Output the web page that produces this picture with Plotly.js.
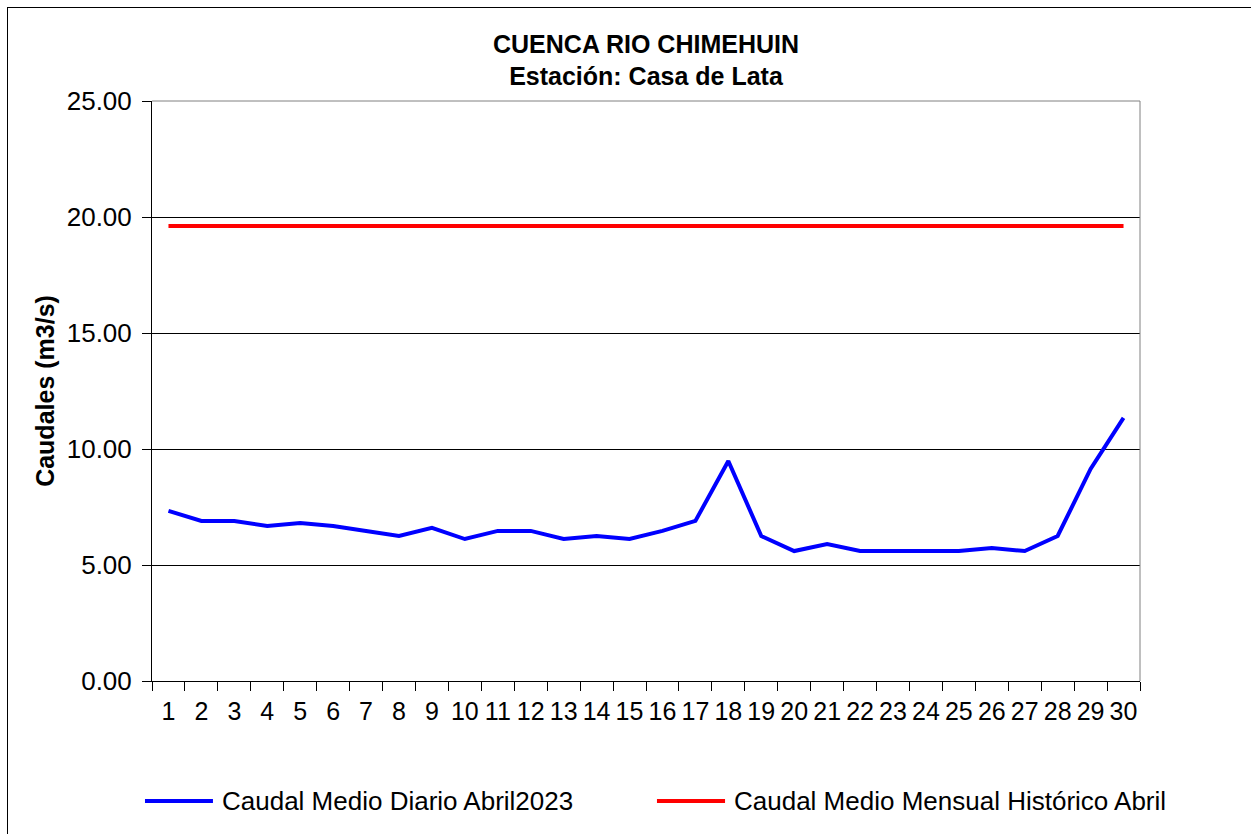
<!DOCTYPE html>
<html>
<head>
<meta charset="utf-8">
<script src="https://cdn.plot.ly/plotly-3.0.1.min.js"></script>
<style>
  html, body { margin: 0; padding: 0; background: #fff; }
  #wrap { position: relative; width: 1251px; height: 834px; overflow: hidden; }
  #chart { width: 1251px; height: 834px; }
  #frame { position: absolute; left: 7px; top: 7px; width: 1250px; height: 830px; border: 1px solid #000; pointer-events: none; box-sizing: border-box; }
</style>
</head>
<body>
<div id="wrap"><div id="chart"></div><div id="frame"></div></div>
<script>
const days = ['1','2','3','4','5','6','7','8','9','10','11','12','13','14','15','16','17','18','19','20','21','22','23','24','25','26','27','28','29','30'];
const caudalDiario = [7.33, 6.90, 6.90, 6.68, 6.81, 6.68, 6.47, 6.25, 6.60, 6.12, 6.47, 6.47, 6.12, 6.25, 6.12, 6.47, 6.90, 9.48, 6.25, 5.60, 5.90, 5.60, 5.60, 5.60, 5.60, 5.73, 5.60, 6.25, 9.14, 11.34];
const caudalHistorico = [19.61, 19.61, 19.61, 19.61, 19.61, 19.61, 19.61, 19.61, 19.61, 19.61, 19.61, 19.61, 19.61, 19.61, 19.61, 19.61, 19.61, 19.61, 19.61, 19.61, 19.61, 19.61, 19.61, 19.61, 19.61, 19.61, 19.61, 19.61, 19.61, 19.61];
const seriesNames = ['Caudal Medio Diario Abril2023', 'Caudal Medio Mensual Histórico Abril'];
const seriesColors = ['#0000ff', '#ff0000'];
const yTicks = [0, 5, 10, 15, 20, 25];
const yTickText = ['0.00', '5.00', '10.00', '15.00', '20.00', '25.00'];

const font = 'Liberation Sans, Arial, sans-serif';

const traces = [
  { x: days, y: caudalDiario, type: 'scatter', mode: 'lines', name: seriesNames[0],
    line: { color: seriesColors[0], width: 4 } },
  { x: days, y: caudalHistorico, type: 'scatter', mode: 'lines', name: seriesNames[1],
    line: { color: seriesColors[1], width: 4 } }
];

// manual legend (Excel style long line samples)
const legendY = -0.207;
const legendPos = [
  { x0: -0.0071, x1: 0.0617, tx: 0.0688 },
  { x0: 0.5111, x1: 0.5800, tx: 0.5870 }
];
const legendShapes = legendPos.map((p, i) => ({
  type: 'line', xref: 'paper', yref: 'paper', x0: p.x0, x1: p.x1, y0: legendY, y1: legendY,
  line: { color: seriesColors[i], width: 4 }
}));
const legendAnn = legendPos.map((p, i) => ({
  xref: 'paper', yref: 'paper', x: p.tx, y: legendY, xanchor: 'left', yanchor: 'middle',
  text: seriesNames[i], showarrow: false, font: { family: font, size: 26, color: '#000' }
}));

const layout = {
  width: 1251, height: 834,
  margin: { l: 152, r: 111, t: 101, b: 153 },
  paper_bgcolor: '#fff', plot_bgcolor: '#fff',
  font: { family: font, color: '#000', size: 26 },
  title: { text: '<b>CUENCA RIO CHIMEHUIN</b><br><b>Estación: Casa de Lata</b>',
    font: { family: font, size: 25, color: '#000' }, x: 0.5, xanchor: 'center', xref: 'paper',
    y: 0.937, yanchor: 'top', yref: 'container' },
  xaxis: {
    type: 'category', tickson: 'boundaries', ticks: 'outside', ticklen: 9, tickcolor: '#000', tickwidth: 1,
    showline: true, linecolor: '#000', linewidth: 1, showgrid: false, zeroline: false,
    tickfont: { family: font, size: 25, color: '#000' }, automargin: false,
    range: [-0.5, 29.5], fixedrange: true, tickangle: 0, ticklabelstandoff: 8
  },
  yaxis: {
    range: [0, 25], tickvals: yTicks, ticktext: yTickText, ticks: 'outside', ticklen: 9, tickcolor: '#000',
    showline: true, linecolor: '#000', linewidth: 1, showgrid: true, gridcolor: '#000', gridwidth: 1,
    zeroline: false, tickfont: { family: font, size: 26, color: '#000' }, automargin: false,
    ticklabelstandoff: 5,
    title: { text: '<b>Caudales (m3/s)</b>', font: { family: font, size: 25, color: '#000' }, standoff: 4 }
  },
  shapes: [
    { type: 'line', xref: 'paper', yref: 'paper', x0: 1, x1: 1, y0: 0, y1: 1, line: { color: '#808080', width: 1 } },
    { type: 'line', xref: 'paper', yref: 'paper', x0: 0, x1: 1, y0: 1, y1: 1, line: { color: '#808080', width: 1 } }
  ].concat(legendShapes),
  annotations: legendAnn,
  showlegend: false
};

Plotly.newPlot('chart', traces, layout, { displayModeBar: false, staticPlot: true });
</script>
</body>
</html>
